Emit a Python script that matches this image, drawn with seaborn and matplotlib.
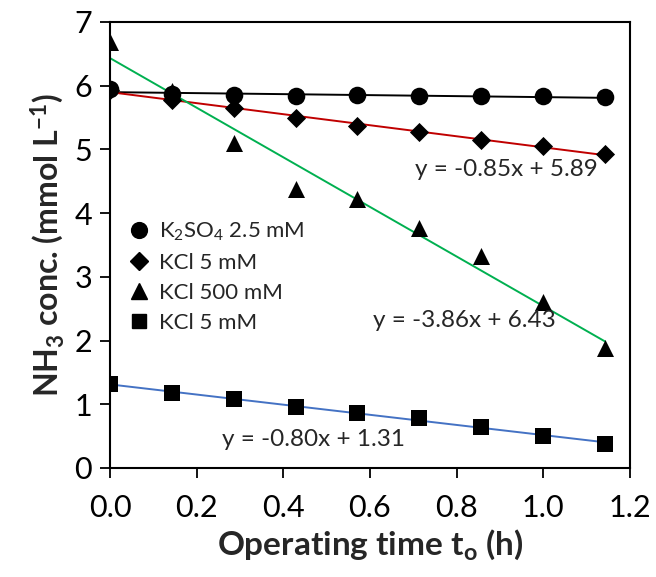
import numpy as np
import pandas as pd
import matplotlib
matplotlib.use("Agg")
import matplotlib.pyplot as plt
import seaborn as sns

# ---- data ----
time_h = [0.0, 0.143, 0.286, 0.429, 0.571, 0.714, 0.857, 1.0, 1.143]
k2so4_25 = [5.95, 5.87, 5.85, 5.83, 5.86, 5.84, 5.83, 5.83, 5.82]
kcl_5 = [5.93, 5.78, 5.65, 5.50, 5.37, 5.27, 5.15, 5.05, 4.93]
kcl_500 = [6.68, 5.92, 5.10, 4.38, 4.22, 3.77, 3.32, 2.60, 1.88]
kcl_5b = [1.32, 1.17, 1.08, 0.96, 0.87, 0.78, 0.65, 0.50, 0.38]

labels = [r"K$_2$SO$_4$ 2.5 mM", "KCl 5 mM", "KCl 500 mM", "KCl 5 mM"]
equations = ["y = -0.85x + 5.89", "y = -3.86x + 6.43", "y = -0.80x + 1.31"]
xticks = [0.0, 0.2, 0.4, 0.6, 0.8, 1.0, 1.2]
yticks = [0, 1, 2, 3, 4, 5, 6, 7]

sns.set_style("ticks")
plt.rcParams["font.family"] = ["Lato", "DejaVu Sans"]
plt.rcParams["mathtext.fontset"] = "custom"
plt.rcParams["mathtext.rm"] = "Lato"
plt.rcParams["mathtext.it"] = "Lato:italic"
plt.rcParams["mathtext.bf"] = "Lato:bold"

fig = plt.figure(figsize=(6.56, 5.77), dpi=100)
ax = fig.add_axes([0.168, 0.189, 0.792, 0.773])

series = [k2so4_25, kcl_5, kcl_500, kcl_5b]
markers = ["o", "D", "^", "s"]
sizes = [160, 95, 150, 135]
line_colors = ["black", "#C00000", "#00B050", "#4472C4"]

for ys, c in zip(series, line_colors):
    df = pd.DataFrame({"t": time_h, "c": ys})
    sns.regplot(data=df, x="t", y="c", scatter=False, ci=None, ax=ax,
                line_kws={"color": c, "lw": 1.4})

handles = []
for ys, m, s, lab in zip(series, markers, sizes, labels):
    df = pd.DataFrame({"t": time_h, "c": ys})
    sns.scatterplot(data=df, x="t", y="c", marker=m, s=s, color="black",
                    edgecolor="black", linewidth=0, ax=ax, zorder=3)
    handles.append(plt.Line2D([], [], marker=m, ls="", color="black",
                              markersize=np.sqrt(s) * 0.9, label=lab))

ax.legend(handles=handles, loc="upper left", bbox_to_anchor=(0.0, 0.59),
          frameon=False, fontsize=16, handletextpad=0.3, labelspacing=0.45,
          borderaxespad=0.3, handlelength=1.2)

ax.text(0.915, 4.68, equations[0], fontsize=17.5, ha="center", va="center")
ax.text(0.817, 2.32, equations[1], fontsize=17.5, ha="center", va="center")
ax.text(0.47, 0.44, equations[2], fontsize=17.5, ha="center", va="center")

ax.set_xlim(0, 1.2)
ax.set_ylim(0, 7)
ax.set_xticks(xticks)
ax.set_xticklabels([f"{v:.1f}" for v in xticks])
ax.set_yticks(yticks)
ax.tick_params(axis="both", direction="out", length=7, width=1.3,
               labelsize=22, colors="black", pad=6)
ax.tick_params(axis="x", pad=12)
for sp in ax.spines.values():
    sp.set_visible(True)
    sp.set_linewidth(1.5)
    sp.set_color("black")

ax.set_xlabel(r"Operating time t$_\mathbf{o}$ (h)", fontsize=24,
              fontweight="bold", labelpad=4)
ax.set_ylabel(r"NH$_\mathbf{3}$ conc. (mmol L$^\mathbf{-1}$)", fontsize=23,
              fontweight="bold", labelpad=6)

fig.savefig("out.png", dpi=100)
